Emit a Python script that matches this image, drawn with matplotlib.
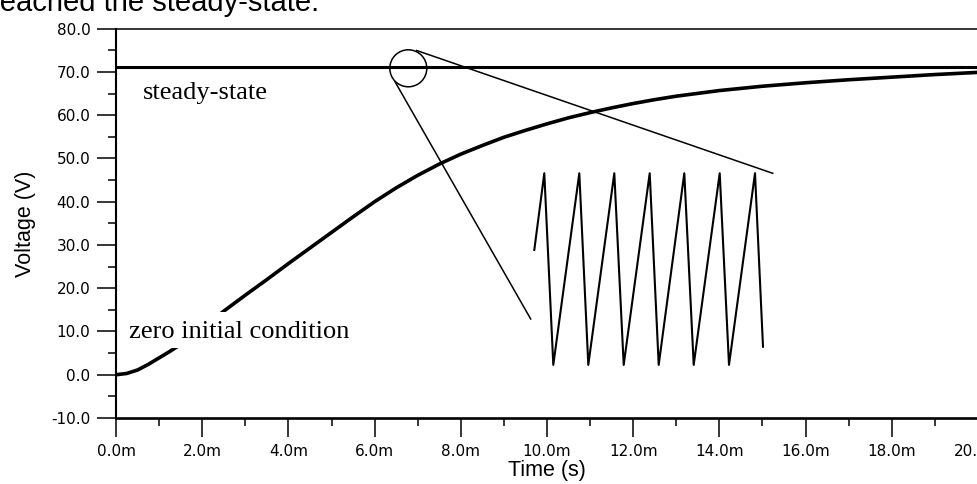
import matplotlib
matplotlib.use("Agg")
import matplotlib.pyplot as plt
from matplotlib.patches import Circle, Rectangle
from matplotlib.ticker import MultipleLocator, FormatStrFormatter

# capacitor voltage (time in ms)
time_ms = [0, 0.25, 0.5, 0.75, 1, 1.25, 1.5, 2, 2.5, 3, 3.5, 4, 4.5, 5,
           5.5, 6, 6.5, 7, 7.5, 8, 8.5, 9, 9.5, 10, 10.5, 11, 11.5, 12,
           12.5, 13, 14, 15, 16, 17, 18, 19, 20]
voltage = [0, 0.3, 1.1, 2.4, 3.9, 5.4, 7.0, 10.7, 14.7, 18.4, 22.0, 25.7,
           29.3, 32.9, 36.5, 40.0, 43.2, 46.1, 48.7, 51.0, 53.0, 54.9,
           56.5, 58.0, 59.4, 60.6, 61.7, 62.7, 63.6, 64.4, 65.7, 66.7,
           67.5, 68.2, 68.8, 69.4, 69.9]
steady_state = 71.2

# zoomed ripple around steady state (arbitrary units, normalised)
ripple_t = [0, 10, 19, 45, 54, 80, 89.4, 115.4, 124.4, 150, 159.4,
            185.4, 194.7, 220.7, 228.7]
ripple_v = [0.6, 1, 0, 1, 0, 1, 0, 1, 0, 1, 0, 1, 0, 1, 0.095]

W, H = 977, 484
fig = plt.figure(figsize=(W / 100, H / 100), dpi=100)

ax = fig.add_axes([116 / W, 1 - 418 / H, 862 / W, (418 - 28.7) / H])
ax.plot(time_ms, voltage, color="black", lw=2.6, solid_joinstyle="round")
ax.axhline(steady_state, color="black", lw=2.2)
ax.set_xlim(0, 20)
ax.set_ylim(-10, 80)
ax.xaxis.set_major_locator(MultipleLocator(2))
ax.xaxis.set_minor_locator(MultipleLocator(1))
ax.yaxis.set_major_locator(MultipleLocator(10))
ax.yaxis.set_minor_locator(MultipleLocator(5))
ax.xaxis.set_major_formatter(FormatStrFormatter("%.1fm"))
ax.yaxis.set_major_formatter(FormatStrFormatter("%.1f"))
ax.tick_params(which="major", length=13.5, width=1.1, pad=5,
               labelsize=11, colors="black")
ax.tick_params(which="minor", length=5.8, width=1.1)
ax.spines["right"].set_visible(False)
ax.spines["left"].set_linewidth(1.5)
ax.spines["bottom"].set_linewidth(1.9)
ax.spines["top"].set_linewidth(1.1)
ax.set_xlabel("Time (s)", family="Liberation Sans", fontsize=15.5, labelpad=1)
ax.set_ylabel("Voltage (V)", family="Liberation Sans", fontsize=15.5, labelpad=11)

# ripple inset
ins = fig.add_axes([530 / W, 1 - 372 / H, 240 / W, 207 / H], zorder=2)
ins.plot(ripple_t, ripple_v, color="black", lw=1.5)
ins.set_xlim(-4.3, 235.7)
ins.set_ylim(-0.037, 1.043)
ins.axis("off")

# overlay in pixel units for the callout and text labels
ov = fig.add_axes([0, 0, 1, 1], zorder=5)
ov.set_xlim(0, W)
ov.set_ylim(H, 0)
ov.axis("off")
ov.patch.set_visible(False)

ov.add_patch(Rectangle((127, 311.7), 271, 36.6, color="white", lw=0))
ov.add_patch(Rectangle((141.7, 73), 163, 35, color="white", lw=0))
ov.add_patch(Circle((408.3, 68.3), 18.5, fill=False, color="black", lw=1.1))
ov.plot([416.7, 772.7], [50.5, 173.3], color="black", lw=1.1)
ov.plot([395, 530.7], [81.7, 319], color="black", lw=1.1)

serif = dict(family="Liberation Serif", fontsize=19, va="baseline")
ov.text(143, 99.5, "steady-state", **serif)
ov.text(129, 337.5, "zero initial condition", **serif)
ov.text(-10, 11, "reached the steady-state.", family="Liberation Sans",
        fontsize=21, va="baseline", clip_on=False)

fig.savefig("out.png", dpi=100)
